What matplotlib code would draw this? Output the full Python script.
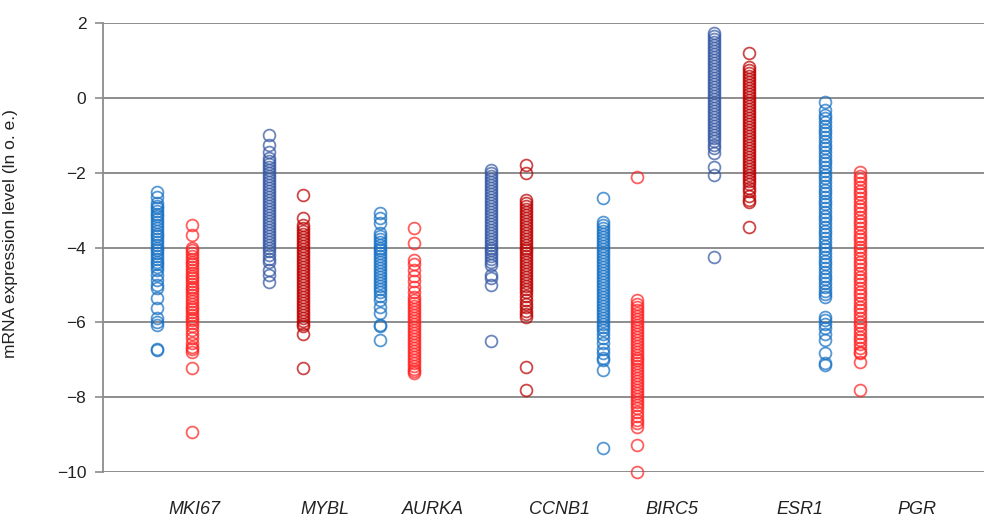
import matplotlib
matplotlib.use('Agg')
import matplotlib.pyplot as plt

plt.rcParams['font.family'] = ['Liberation Sans', 'DejaVu Sans']

genes = ['MKI67', 'MYBL', 'AURKA', 'CCNB1', 'BIRC5', 'ESR1', 'PGR']

# two columns per gene (left / right)
mki67_a = [-2.52, -2.65, -2.8, -2.88, -2.95, -3.02, -3.1, -3.17, -3.25, -3.33, -3.4, -3.48, -3.56, -3.63,
           -3.7, -3.78, -3.86, -3.93, -4.0, -4.08, -4.15, -4.22, -4.3, -4.38, -4.45, -4.52, -4.6, -4.74,
           -4.87, -5.0, -5.09, -5.35, -5.62, -5.89, -6.0, -6.07, -6.7, -6.74]
mki67_b = [-3.4, -3.67, -4.02, -4.08, -4.15, -4.22, -4.3, -4.38, -4.45, -4.52, -4.6, -4.68, -4.75, -4.82,
           -4.9, -4.98, -5.05, -5.12, -5.2, -5.28, -5.35, -5.42, -5.5, -5.58, -5.65, -5.72, -5.8, -5.88,
           -5.95, -6.02, -6.1, -6.2, -6.3, -6.42, -6.55, -6.65, -6.72, -6.78, -7.22, -8.94]
mybl_a = [-1.0, -1.26, -1.45, -1.6, -1.68, -1.76, -1.84, -1.92, -2.0, -2.08, -2.16, -2.24, -2.32, -2.4,
          -2.48, -2.56, -2.64, -2.72, -2.8, -2.88, -2.96, -3.04, -3.12, -3.2, -3.28, -3.36, -3.44, -3.52,
          -3.6, -3.68, -3.76, -3.84, -3.92, -4.0, -4.1, -4.2, -4.3, -4.38, -4.6, -4.74, -4.93]
mybl_b = [-2.6, -3.21, -3.4, -3.48, -3.56, -3.64, -3.72, -3.8, -3.88, -3.96, -4.04, -4.12, -4.2, -4.28,
          -4.36, -4.44, -4.52, -4.6, -4.68, -4.76, -4.84, -4.92, -5.0, -5.08, -5.16, -5.24, -5.32, -5.4,
          -5.48, -5.56, -5.64, -5.72, -5.8, -5.88, -5.96, -6.04, -6.1, -6.3, -7.22]
aurka_a = [-3.08, -3.21, -3.35, -3.6, -3.68, -3.76, -3.84, -3.92, -4.0, -4.08, -4.16, -4.24, -4.32, -4.4,
           -4.48, -4.56, -4.64, -4.72, -4.8, -4.88, -4.96, -5.04, -5.12, -5.2, -5.3, -5.4, -5.59, -5.75,
           -6.07, -6.1, -6.48]
aurka_b = [-3.48, -3.88, -4.34, -4.45, -4.6, -4.75, -4.9, -5.05, -5.2, -5.33, -5.4, -5.48, -5.56, -5.64,
           -5.72, -5.8, -5.88, -5.96, -6.04, -6.12, -6.2, -6.28, -6.36, -6.44, -6.52, -6.6, -6.68, -6.76,
           -6.84, -6.92, -7.0, -7.08, -7.16, -7.24, -7.3, -7.36]
ccnb1_a = [-1.93, -2.0, -2.08, -2.16, -2.24, -2.32, -2.4, -2.48, -2.56, -2.64, -2.72, -2.8, -2.88, -2.96,
           -3.04, -3.12, -3.2, -3.28, -3.36, -3.44, -3.52, -3.6, -3.68, -3.76, -3.84, -3.92, -4.0, -4.08,
           -4.16, -4.24, -4.32, -4.4, -4.47, -4.74, -4.82, -5.0, -6.5]
ccnb1_b = [-1.8, -2.01, -2.73, -2.8, -2.88, -2.96, -3.04, -3.12, -3.2, -3.28, -3.36, -3.44, -3.52, -3.6,
           -3.68, -3.76, -3.84, -3.92, -4.0, -4.08, -4.16, -4.24, -4.32, -4.4, -4.48, -4.56, -4.64, -4.72,
           -4.8, -4.88, -4.96, -5.04, -5.12, -5.2, -5.3, -5.4, -5.5, -5.6, -5.7, -5.78, -5.86, -7.2, -7.81]
birc5_a = [-2.68, -3.32, -3.4, -3.48, -3.56, -3.64, -3.72, -3.8, -3.88, -3.96, -4.04, -4.12, -4.2, -4.28,
           -4.36, -4.44, -4.52, -4.6, -4.68, -4.76, -4.84, -4.92, -5.0, -5.08, -5.16, -5.24, -5.32, -5.4,
           -5.48, -5.56, -5.64, -5.72, -5.8, -5.88, -5.96, -6.04, -6.12, -6.2, -6.3, -6.42, -6.55, -6.7,
           -6.82, -6.96, -7.0, -7.28, -9.36]
birc5_b = [-2.12, -5.41, -5.5, -5.58, -5.66, -5.74, -5.82, -5.9, -5.98, -6.06, -6.14, -6.22, -6.3, -6.38,
           -6.46, -6.54, -6.62, -6.7, -6.78, -6.86, -6.94, -7.02, -7.1, -7.18, -7.26, -7.34, -7.42, -7.5,
           -7.58, -7.66, -7.74, -7.82, -7.9, -7.98, -8.06, -8.14, -8.22, -8.3, -8.4, -8.5, -8.6, -8.7,
           -8.8, -9.28, -10.0]
esr1_a = [1.73, 1.65, 1.57, 1.49, 1.41, 1.33, 1.25, 1.17, 1.09, 1.01, 0.93, 0.85, 0.77, 0.69, 0.61, 0.53,
          0.45, 0.37, 0.29, 0.21, 0.13, 0.05, -0.03, -0.11, -0.19, -0.27, -0.35, -0.43, -0.51, -0.59,
          -0.67, -0.75, -0.83, -0.91, -0.99, -1.07, -1.15, -1.25, -1.35, -1.48, -1.85, -2.06, -4.26]
esr1_b = [1.2, 0.82, 0.74, 0.66, 0.58, 0.5, 0.42, 0.34, 0.26, 0.18, 0.1, 0.02, -0.06, -0.14, -0.22, -0.3,
          -0.38, -0.46, -0.54, -0.62, -0.7, -0.78, -0.86, -0.94, -1.02, -1.1, -1.18, -1.26, -1.34, -1.42,
          -1.5, -1.58, -1.66, -1.74, -1.82, -1.9, -1.98, -2.06, -2.14, -2.22, -2.3, -2.4, -2.5, -2.62,
          -2.72, -2.79, -3.45]
pgr_a = [-0.11, -0.33, -0.45, -0.55, -0.65, -0.75, -0.85, -0.95, -1.05, -1.15, -1.25, -1.35, -1.45, -1.55,
         -1.65, -1.75, -1.85, -1.95, -2.05, -2.15, -2.25, -2.35, -2.45, -2.55, -2.65, -2.75, -2.85, -2.95,
         -3.05, -3.15, -3.25, -3.35, -3.45, -3.55, -3.65, -3.75, -3.85, -3.95, -4.05, -4.15, -4.25, -4.35,
         -4.45, -4.55, -4.65, -4.75, -4.85, -4.95, -5.05, -5.15, -5.25, -5.33, -5.86, -5.95, -6.05, -6.15,
         -6.3, -6.48, -6.82, -7.09, -7.14]
pgr_b = [-1.98, -2.08, -2.18, -2.28, -2.38, -2.48, -2.58, -2.68, -2.78, -2.88, -2.98, -3.08, -3.18, -3.28,
         -3.38, -3.48, -3.58, -3.68, -3.78, -3.88, -3.98, -4.08, -4.18, -4.28, -4.38, -4.48, -4.58, -4.68,
         -4.78, -4.88, -4.98, -5.08, -5.18, -5.28, -5.38, -5.48, -5.58, -5.68, -5.78, -5.88, -5.98, -6.08,
         -6.18, -6.28, -6.38, -6.48, -6.58, -6.68, -6.78, -6.82, -7.06, -7.81]

pairs = [(mki67_a, mki67_b), (mybl_a, mybl_b), (aurka_a, aurka_b), (ccnb1_a, ccnb1_b),
         (birc5_a, birc5_b), (esr1_a, esr1_b), (pgr_a, pgr_b)]

# light / dark colour sets alternate between genes
light = ('#1670c4', '#ff2222')
dark = ('#3557a3', '#bb0000')

label_pos = [0.18, 1.35, 2.32, 3.46, 4.47, 5.62, 6.67]
offset = 0.155

fig = plt.figure(figsize=(9.84, 5.18), dpi=100)
ax = fig.add_axes([0.1047, 0.0888, 0.8953, 0.8668])

for i, (a, b) in enumerate(pairs):
    cols = light if i % 2 == 0 else dark
    for vals, dx, c in ((a, -offset, cols[0]), (b, offset, cols[1])):
        ax.plot([i + dx] * len(vals), vals, 'o', ms=8.5, mfc='none', mec=c, mew=1.3,
                alpha=0.72, clip_on=False, zorder=3)

ax.set_xlim(-0.642, 7.27)
ax.set_ylim(-10, 2)
ax.set_yticks(range(-10, 3, 2))
ax.set_xticks(label_pos)
ax.set_xticklabels(genes, fontstyle='italic', fontsize=13, color='#222222')
ax.tick_params(axis='x', length=0, pad=21)
ax.tick_params(axis='y', length=6, width=1.2, color='#8c8c8c', labelsize=12.5,
               labelcolor='#222222', pad=6)

ax.grid(axis='y', color='#858585', lw=1.3, zorder=0)
for s in ['top', 'right', 'bottom']:
    ax.spines[s].set_visible(False)
ax.spines['left'].set_color('#8c8c8c')
ax.spines['left'].set_linewidth(1.3)

ax.set_ylabel('mRNA expression level (ln o. e.)', fontsize=12.5, color='#222222')
ax.yaxis.set_label_coords(-0.0965, 0.53)

fig.savefig('out.png', dpi=100)
